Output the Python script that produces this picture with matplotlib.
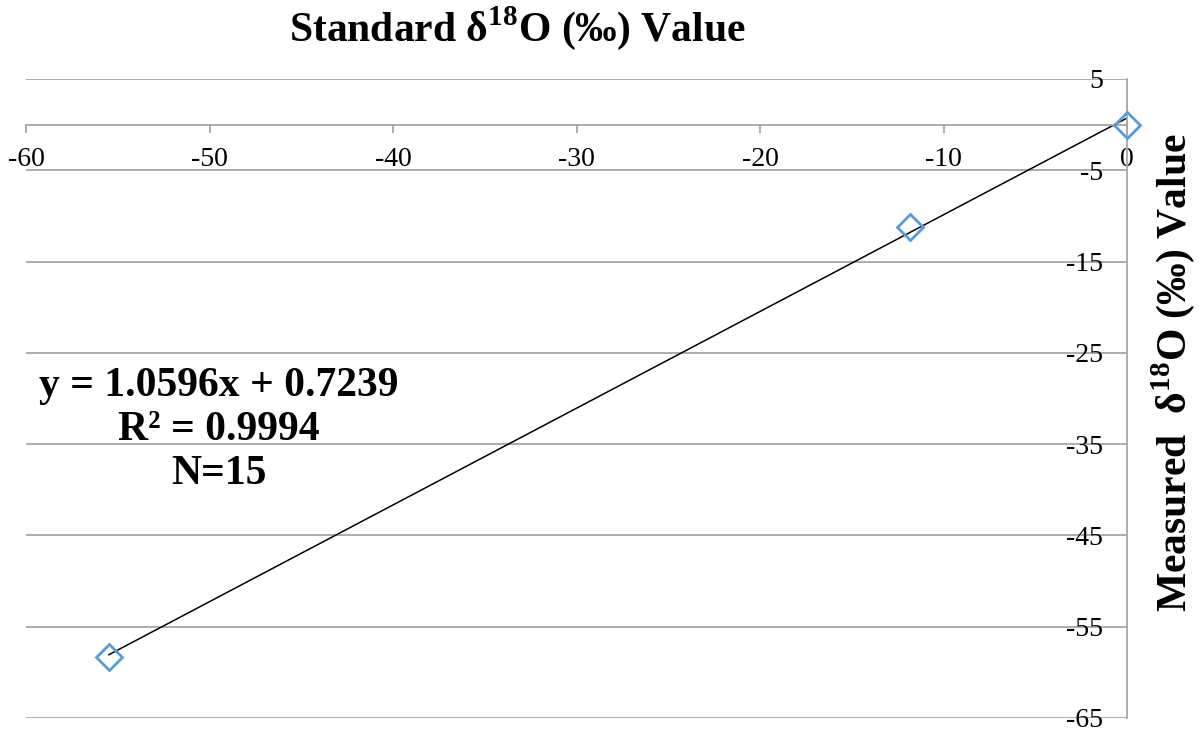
import numpy as np
import matplotlib.pyplot as plt

plt.rcParams['font.family'] = ['Liberation Serif', 'DejaVu Serif']
plt.rcParams['mathtext.fontset'] = 'custom'
plt.rcParams['mathtext.rm'] = 'Liberation Serif:bold'
plt.rcParams['mathtext.bf'] = 'Liberation Serif:bold'

# standard vs measured delta 18O values (per mil)
standard = [0.0, -11.83, -55.48]
measured = [0.0, -11.25, -58.35]

slope = 1.0596
intercept = 0.7239
r2 = 0.9994
n = 15

x_ticks = [-60, -50, -40, -30, -20, -10, 0]
y_ticks = [5, -5, -15, -25, -35, -45, -55, -65]

grid_col = "#A6A6A6"
blue = "#5B9BD5"

fig = plt.figure(figsize=(12.04, 7.34), dpi=100)
ax = fig.add_axes([0.0216, 0.0218, 0.9145, 0.8706])

ax.set_xlim(-60, 0)
ax.set_ylim(-65, 5)

for yv in y_ticks:
    ax.axhline(yv, color=grid_col, lw=1.3, zorder=1)

# trendline from the fitted equation
x_fit = np.array([min(standard), max(standard)])
ax.plot(x_fit, slope * x_fit + intercept, color="black", lw=1.1, zorder=2)

ax.plot(standard, measured, linestyle="none", marker="D", markersize=13,
        markerfacecolor="none", markeredgecolor=blue, markeredgewidth=2.0,
        zorder=3, clip_on=False)

# spines: x axis at y=0, y axis at x=0 (right)
ax.spines['left'].set_visible(False)
ax.spines['top'].set_visible(False)
ax.spines['bottom'].set_position(('data', 0))
ax.spines['bottom'].set_color(grid_col)
ax.spines['bottom'].set_linewidth(1.3)
ax.spines['right'].set_color(grid_col)
ax.spines['right'].set_linewidth(1.3)

ax.set_xticks(x_ticks)
ax.set_xticklabels([str(v) for v in x_ticks])
ax.tick_params(axis='x', direction='out', length=6, width=1.3, color=grid_col,
               labelsize=20, pad=10)

ax.set_yticks(y_ticks)
ax.set_yticklabels([str(v) for v in y_ticks])
ax.tick_params(axis='y', left=False, right=False, labelleft=False, labelright=True,
               labelsize=20, pad=-21)
for t in ax.get_yticklabels():
    t.set_horizontalalignment('right')

fig.text(0.43, 0.962, r"Standard δ$^{18}$O (‰) Value", ha="center", va="center",
         fontsize=30, fontweight="bold")
fig.text(0.974, 0.492, r"Measured  δ$^{18}$O (‰) Value", ha="center", va="center",
         rotation=90, fontsize=30, fontweight="bold")

ax.text(0.182, 0.414, f"y = {slope}x + {intercept}\nR² = {r2}\nN={n}",
        transform=fig.transFigure, ha="center", va="center", fontsize=30,
        fontweight="bold", linespacing=1.2)

plt.savefig("out.png", dpi=100)
